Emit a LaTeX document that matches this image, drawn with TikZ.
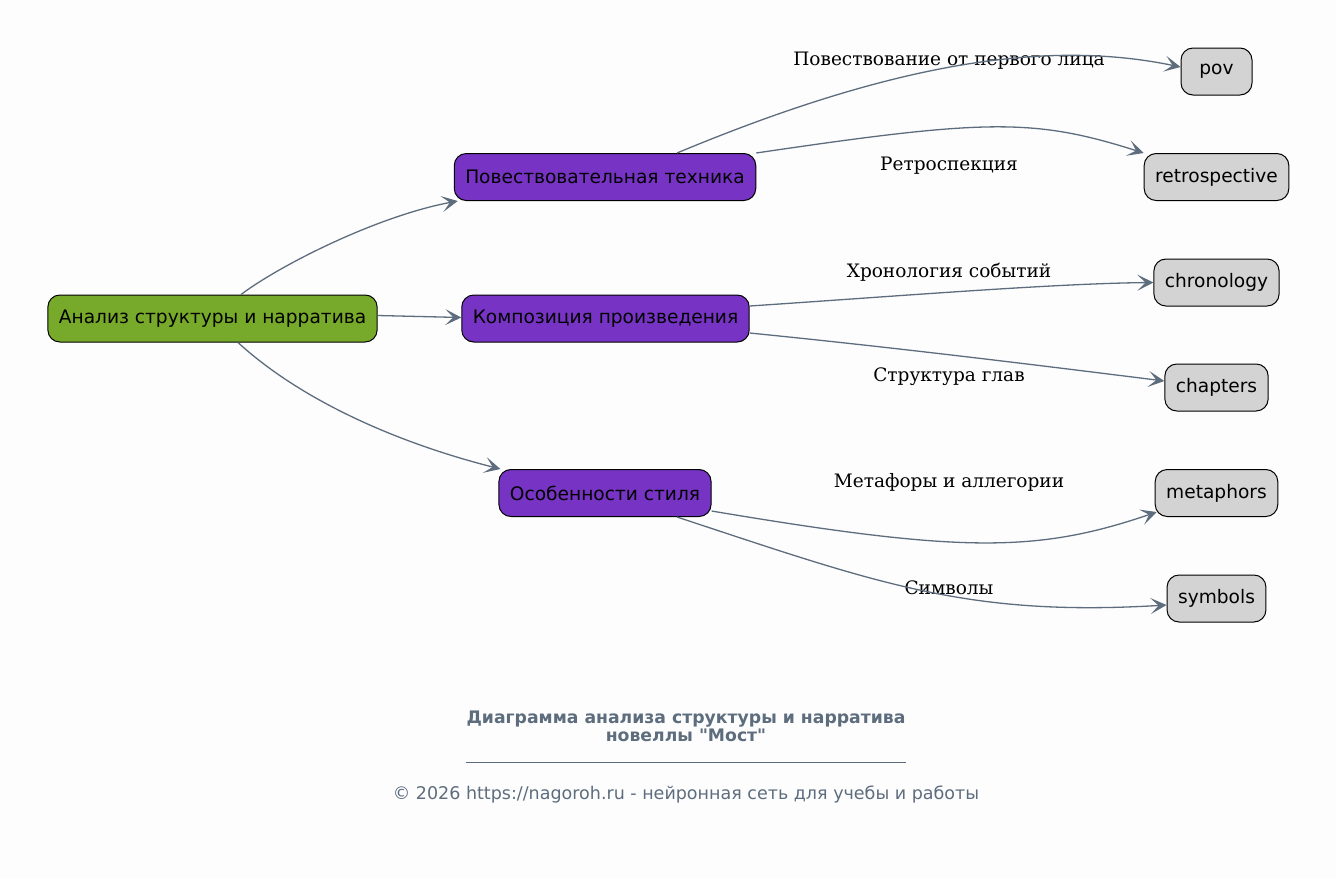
\documentclass[tikz,border=0pt]{standalone}
\usepackage{fontspec}
\usetikzlibrary{arrows.meta,calc}
\newfontfamily\nodefont{DejaVu Sans}
\newfontfamily\lblfont{DejaVu Serif}
\definecolor{bgc}{HTML}{FDFDFD}
\definecolor{rootc}{HTML}{77AA2A}
\definecolor{midc}{HTML}{7733C4}
\definecolor{leafc}{HTML}{D3D3D3}
\definecolor{edgec}{HTML}{5D6D7E}
\tikzset{
  x=1pt,y=1pt,
  box/.style={draw=black, line width=1pt, rounded corners=12pt, minimum height=47pt,
    inner xsep=11pt, inner ysep=0pt, font=\nodefont\fontsize{18.6}{22}\selectfont, text=black},
  rootbox/.style={box, fill=rootc},
  midbox/.style={box, fill=midc},
  leafbox/.style={box, fill=leafc},
  edge/.style={draw=edgec, line width=1.3pt,
    -{Stealth[length=16pt,width=16pt,inset=8pt]}},
  elabel/.style={font=\lblfont\fontsize{18.5}{22}\selectfont, text=black, inner sep=0pt},
}
\begin{document}
\begin{tikzpicture}
\fill[bgc] (0,0) rectangle (1336,-879);
\useasboundingbox (0,0) rectangle (1336,-879);

\node[rootbox] (root) at (212.5,-318.5) {Анализ структуры и нарратива};
\node[midbox] (tech) at (605,-177) {Повествовательная техника};
\node[midbox] (comp) at (605.5,-318.5) {Композиция произведения};
\node[midbox] (style) at (605,-493) {Особенности стиля};

\node[leafbox, minimum width=71pt] (pov) at (1216.5,-71.5) {pov};
\node[leafbox] (retro) at (1216.5,-177) {retrospective};
\node[leafbox] (chrono) at (1216.5,-282.5) {chronology};
\node[leafbox] (chap) at (1216.5,-387.5) {chapters};
\node[leafbox] (meta) at (1216.5,-493) {metaphors};
\node[leafbox] (sym) at (1216.5,-598.5) {symbols};

\node[elabel] (l1) at (949,-61) {Повествование от первого лица};
\node[elabel] (l2) at (949,-166) {Ретроспекция};
\node[elabel] (l3) at (949,-272) {Хронология событий};
\node[elabel] (l4) at (949,-377) {Структура глав};
\node[elabel] (l5) at (949,-482) {Метафоры и аллегории};
\node[elabel] (l6) at (949,-588) {Символы};

\draw[edge] ([xshift=28.5pt]root.north) .. controls +(40,30) and +(-80,-15) .. ([xshift=4pt]tech.south west);
\draw[edge] ([yshift=3pt]root.east) -- ([yshift=1pt]comp.west);
\draw[edge] ([xshift=25.5pt]root.south) .. controls +(60,-55) and +(-110,28) .. ([xshift=2pt]style.north west);

\draw[edge] ([xshift=72pt]tech.north) .. controls +(223,93) and +(-130,27) .. ([yshift=4.5pt]pov.west);
\draw[edge] (tech.north east) .. controls +(230,34) and +(-110,35) .. (retro.north west);
\draw[edge] ([yshift=12.5pt]comp.east) .. controls +(150,10) and +(-100,-1) .. (chrono.west);
\draw[edge] ([yshift=-14.5pt]comp.east) .. controls +(150,-15) and +(-120,15) .. ([yshift=6.5pt]chap.west);
\draw[edge] ([yshift=-18pt]style.east) .. controls +(250,-42) and +(-120,-41) .. ([xshift=2pt,yshift=5pt]meta.south west);
\draw[edge] ([xshift=72pt]style.south) .. controls +(200,-66) and +(-200,-12) .. ([yshift=-6.5pt]sym.west);

\node[font=\nodefont\bfseries\fontsize{17.25}{18}\selectfont, text=edgec, align=center, inner sep=0pt] (title) at (686,-726) {Диаграмма анализа структуры и нарратива\\новеллы "Мост"};
\coordinate (ul1) at (466,-762);
\coordinate (ul2) at (906,-762);
\draw[edgec, line width=0.8pt] (ul1) -- (ul2);
\node[font=\nodefont\fontsize{17.5}{20}\selectfont, text=edgec, inner sep=0pt] (foot) at (686,-795) {© 2026 https://nagoroh.ru - нейронная сеть для учебы и работы};
\end{tikzpicture}
\end{document}
